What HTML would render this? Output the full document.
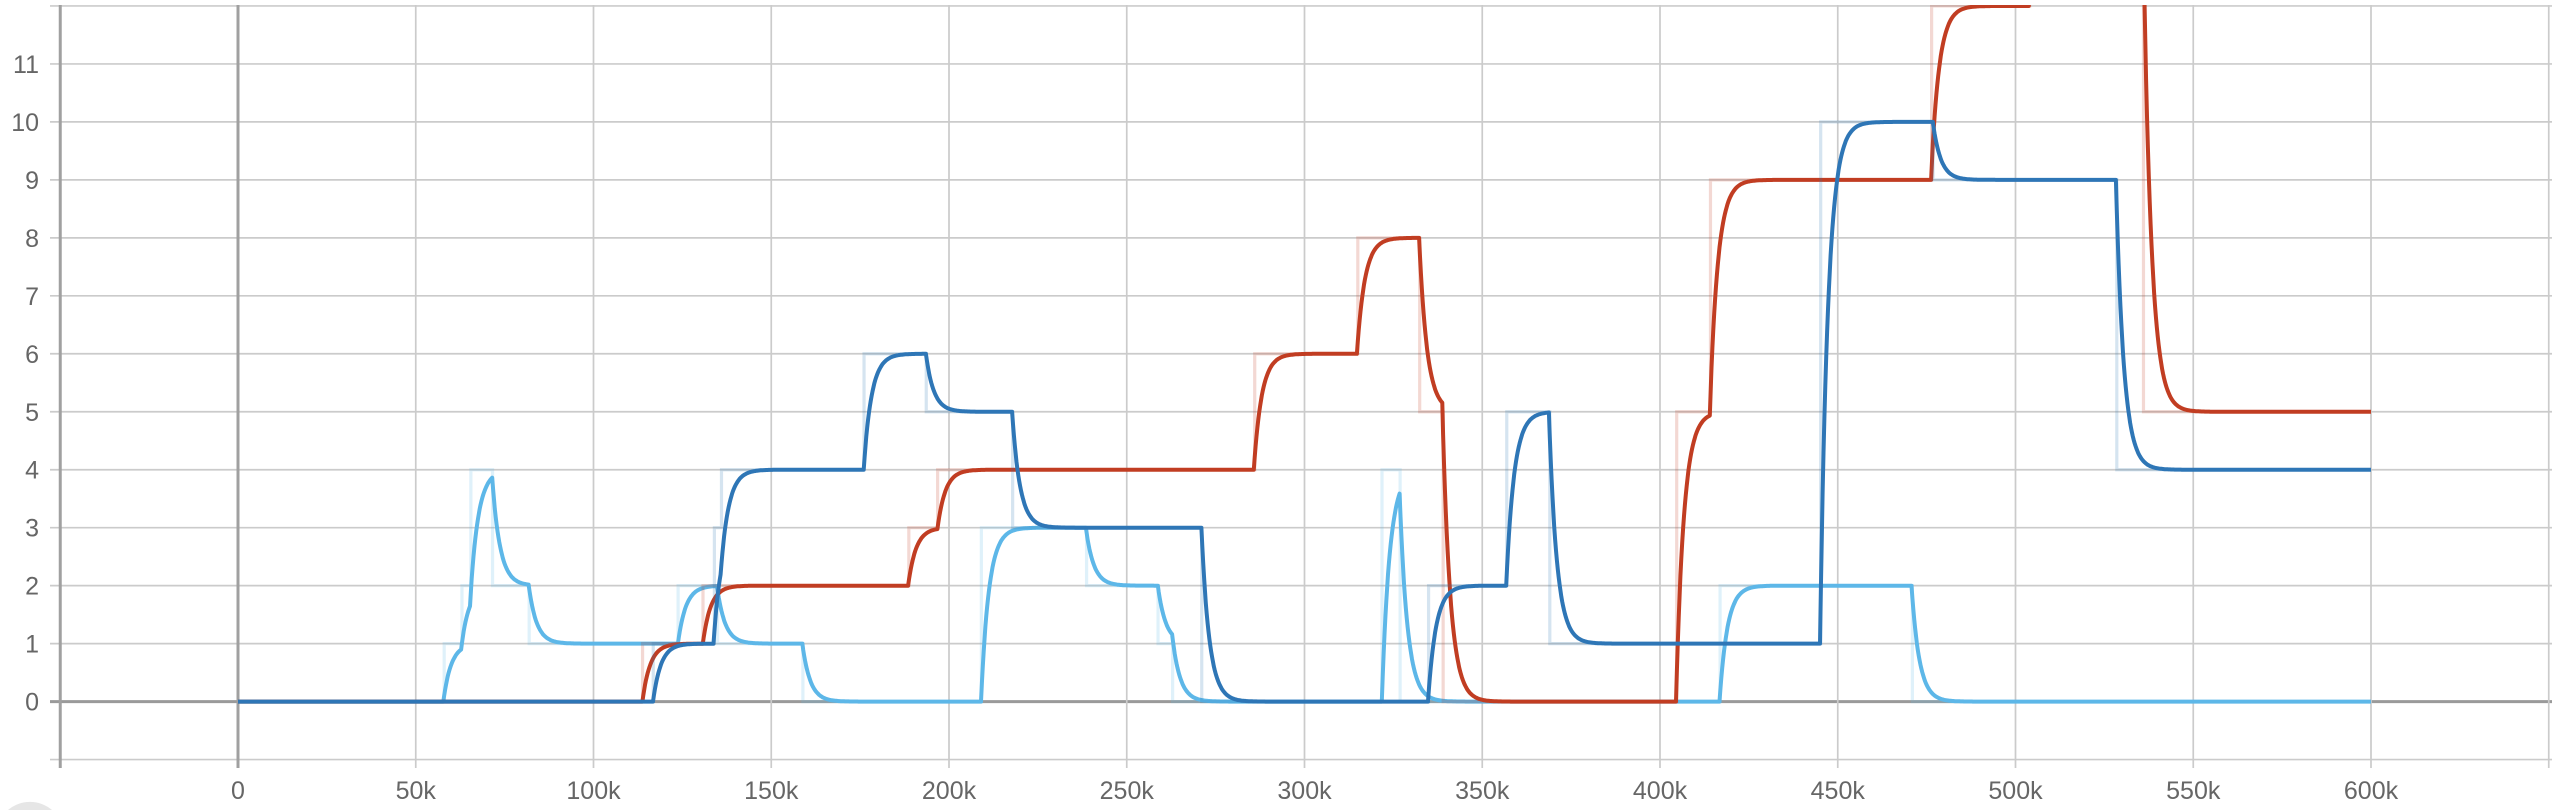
<!DOCTYPE html>
<html><head><meta charset="utf-8">
<style>
html,body{margin:0;padding:0;background:#fff;overflow:hidden;width:2552px;height:810px;}
svg{display:block;}
text{font-family:"Liberation Sans",sans-serif;font-size:25px;fill:#666;}
</style></head>
<body>
<svg id="chart" width="2552" height="810" xmlns="http://www.w3.org/2000/svg">
<defs><clipPath id="plotclip"><rect x="50" y="5" width="2502" height="756"/></clipPath></defs>
<g id="grid"></g>
<g id="series" clip-path="url(#plotclip)"></g>
<g id="labels"></g>
<path d="M8,810 A34,34 0 0 1 52,810 Z" fill="#e6e6e6"/>
</svg>
<script>
// x ticks (in thousands) and y ticks
const xTicks = [-50,0,50,100,150,200,250,300,350,400,450,500,550,600,650];
const xTickLabels = ["","0","50k","100k","150k","200k","250k","300k","350k","400k","450k","500k","550k","600k",""];
const yTicks = [-1,0,1,2,3,4,5,6,7,8,9,10,11,12];
const yTickLabels = ["","0","1","2","3","4","5","6","7","8","9","10","11",""];

// raw step series: change times (k) and values
const redTimes   = [0,113.8,130.8,188.7,196.8,286,315,332.4,339,404.7,414.2,476.4,504,536];
const redValues  = [0,1,2,3,4,6,8,5,0,5,9,12,14,5];
const darkTimes  = [0,116.8,134,136,176.1,193.6,217.9,271.1,334.9,356.9,369,445.2,476.8,528.5];
const darkValues = [0,1,3,4,6,5,3,0,2,5,1,10,9,4];
const lightTimes = [0,58,63,65.5,71.6,81.9,123.8,134.9,158.9,209.1,238.7,258.8,262.9,321.8,326.9,416.9,471];
const lightValues= [0,1,2,4,2,1,2,1,0,3,2,1,0,4,0,2,0];
const endTime = 600;

const X0=238, PXK=3.555, Y0=701.6, PXU=57.97;
const xs = k => X0 + k*PXK;
const ys = v => Y0 - v*PXU;
const NS="http://www.w3.org/2000/svg";
function mk(tag, attrs, parent){const e=document.createElementNS(NS,tag);for(const a in attrs)e.setAttribute(a,attrs[a]);parent.appendChild(e);return e;}

const grid=document.getElementById('grid');
yTicks.forEach((v,i)=>{
  const l=mk('line',{x1:50,x2:2552,y1:ys(v),y2:ys(v),stroke:v===0?'#9a9a9a':'#cbcbcb','stroke-width':v===0?3:1.7},grid);
  
  
});
xTicks.forEach((k,i)=>{
  const dark = (k===0||k===-50);
  const l=mk('line',{x1:xs(k),x2:xs(k),y1:5,y2:768,stroke:dark?'#a0a0a0':'#cbcbcb','stroke-width':dark?3:1.7},grid);
  
  
});
const labels=document.getElementById('labels');
xTicks.forEach((k,i)=>{
  if(!xTickLabels[i])return;
  const t=mk('text',{x:xs(k),y:799,'text-anchor':'middle'},labels);
  t.textContent=xTickLabels[i];
  
  
});
yTicks.forEach((v,i)=>{
  if(!yTickLabels[i])return;
  const t=mk('text',{x:39,y:ys(v)+9,'text-anchor':'end'},labels);
  t.textContent=yTickLabels[i];
  
  
});

const layer=document.getElementById('series');
function drawSeries(times, values, color, name){
  let d='M'+xs(times[0])+','+ys(values[0]);
  for(let i=1;i<times.length;i++){d+=' L'+xs(times[i])+','+ys(values[i-1])+' L'+xs(times[i])+','+ys(values[i]);}
  d+=' L'+xs(endTime)+','+ys(values[values.length-1]);
  const raw=mk('path',{d:d,fill:'none',stroke:color,'stroke-opacity':0.2,'stroke-width':3.2},layer);
  
  
  const dt=0.25, tau=2.2, a=1-Math.exp(-dt/tau);
  let s=values[0], idx=0, pts=[];
  for(let t=0;t<=endTime+1e-9;t+=dt){
    while(idx+1<times.length && times[idx+1]<=t) idx++;
    s += a*(values[idx]-s);
    pts.push(xs(t).toFixed(1)+','+ys(s).toFixed(1));
  }
  const sm=mk('polyline',{points:pts.join(' '),fill:'none',stroke:color,'stroke-width':4,'stroke-linejoin':'round'},layer);
  
  
}
drawSeries(lightTimes, lightValues, '#5db7e8', 'light-blue-series');
drawSeries(redTimes, redValues, '#c13d22', 'red-series');
drawSeries(darkTimes, darkValues, '#2e76b6', 'dark-blue-series');
</script>
</body></html>
